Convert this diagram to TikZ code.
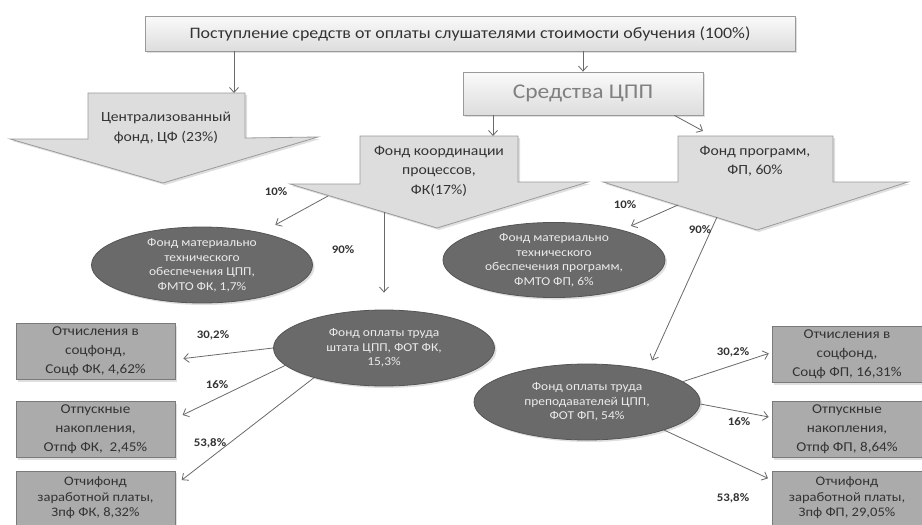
\documentclass[tikz,border=0pt]{standalone}
\usepackage{fontspec}
\setmainfont{Carlito}
\newfontfamily\wfont[FakeStretch=1.12]{Carlito}
\usetikzlibrary{arrows.meta,shapes.geometric,shadows}
\definecolor{bigfill}{HTML}{DDDDDD}
\definecolor{bigline}{HTML}{9A9A9A}
\definecolor{ellfill}{HTML}{6A6A6A}
\definecolor{ellline}{HTML}{555555}
\definecolor{boxfill}{HTML}{ABABAB}
\definecolor{boxline}{HTML}{7A7A7A}
\definecolor{txt}{HTML}{333333}
\definecolor{conncol}{HTML}{6A6A6A}
\begin{document}
\begin{tikzpicture}[x=1pt,y=-1pt,
  shad/.style={drop shadow={shadow xshift=2pt,shadow yshift=-2pt,opacity=0.25}},
  conn/.style={draw=conncol,line width=0.8pt,-{Straight Barb[length=5pt,width=9pt]}},
  bigarrow/.style={fill=bigfill,draw=bigline,line width=0.8pt,shad},
  topbox/.style={draw=bigline,line width=0.8pt,top color=white!96!gray,bottom color=bigfill,shad,
    minimum width=650pt,minimum height=35pt,inner sep=0pt,text=txt,font=\wfont\fontsize{16}{19}\selectfont},
  cppbox/.style={draw=bigline,line width=0.8pt,top color=white!96!gray,bottom color=bigfill,shad,
    minimum width=240pt,minimum height=43pt,inner sep=0pt,text=black!50,font=\wfont\fontsize{21}{24}\selectfont},
  bigtext/.style={align=center,text=txt,inner sep=0pt,font=\wfont\fontsize{14}{19.5}\selectfont},
  ell/.style={ellipse,fill=ellfill,draw=ellline,line width=0.8pt,shad,minimum width=221pt,minimum height=76pt,
    inner sep=0pt,align=center,text=white!92!black,font=\wfont\fontsize{12}{14.5}\selectfont},
  pbox/.style={rectangle,fill=boxfill,draw=boxline,line width=0.8pt,shad,minimum width=159pt,minimum height=56pt,
    inner sep=0pt,align=center,text=txt,font=\wfont\fontsize{13.5}{19}\selectfont},
  lastbox/.style={pbox,minimum height=54pt,font=\wfont\fontsize{13}{15.5}\selectfont},
  pct/.style={inner sep=0pt,text=txt,font=\wfont\bfseries\fontsize{11.5}{13}\selectfont}]
\useasboundingbox (0,0) rectangle (922,525);
\fill[white] (0,0) rectangle (922,525);

% top
\node[topbox] (top) at (470,33.5) {Поступление средств от оплаты слушателями стоимости обучения (100\%)};
\node[cppbox] (cpp) at (583,93.5) {Средства ЦПП};

% big arrows
\path[bigarrow] (88,93) -- (245,93) -- (245,138) -- (318,137) -- (163,183) -- (10,139) -- (88,139) -- cycle;
\node[bigtext] (cf) at (166,128) {Централизованный\\фонд, ЦФ (23\%)};
\coordinate (cfin) at (234,93);

\path[bigarrow] (360,136) -- (518,136) -- (518,182) -- (588,182) -- (437,228) -- (290,184) -- (360,184) -- cycle;
\node[bigtext] (fk) at (439,171) {Фонд координации\\процессов,\\ФК(17\%)};
\coordinate (fkin) at (493,136);

\path[bigarrow] (678,136) -- (833,136) -- (833,182) -- (908,182) -- (757,230) -- (603,182) -- (678,182) -- cycle;
\node[bigtext] (fp) at (755,161) {Фонд программ,\\ФП, 60\%};
\coordinate (fpin) at (703,131);

\draw[conn] (top.south -| cfin) -- (cfin);
\draw[conn] (top.south -| cpp.north) -- (cpp.north);
\draw[conn] (cpp.south -| fkin) -- (fkin);
\draw[conn] ([xshift=-29pt]cpp.south east) -- (fpin);

% ellipses
\node[ell] (mtofk) at (202,265) {Фонд материально\\технического\\обеспечения ЦПП,\\ФМТО ФК, 1,7\%};
\node[ell,minimum width=222pt,minimum height=75pt] (mtofp) at (554,260) {Фонд материально\\технического\\обеспечения программ,\\ФМТО ФП, 6\%};
\node[ell] (fotfk) at (384,348) {Фонд оплаты труда\\штата ЦПП, ФОТ ФК,\\15,3\%};
\node[ell,minimum width=226pt] (fotfp) at (587,402) {Фонд оплаты труда\\преподавателей ЦПП,\\ФОТ ФП, 54\%};

\coordinate (fk10) at (328,196);
\coordinate (fk90) at (384,212);
\coordinate (fp10) at (678,205);
\coordinate (fp90) at (717,217);
\draw[conn,shorten >=16pt] (fk10) -- (mtofk);
\draw[conn,shorten >=17pt] (fk90) -- (fotfk.north);
\draw[conn,shorten >=10pt] (fp10) -- (mtofp);
\draw[conn,shorten >=10pt] (fp90) -- (fotfp.28);

\node[pct] (p1) at (276,192) {10\%};
\node[pct] (p2) at (343,250) {90\%};
\node[pct] (p3) at (625,205) {10\%};
\node[pct] (p4) at (700,230) {90\%};

% boxes left
\node[pbox] (lb1) at (95.5,351.5) {Отчисления в\\соцфонд,\\Соцф ФК, 4,62\%};
\node[pbox] (lb2) at (95.5,429.5) {Отпускные\\накопления,\\Отпф ФК,~~2,45\%};
\node[lastbox] (lb3) at (95.5,498) {Отчифонд\\заработной платы,\\Зпф ФК, 8,32\%};
% boxes right
\node[pbox,minimum width=150pt] (rb1) at (847,354.5) {Отчисления в\\соцфонд,\\Соцф ФП, 16,31\%};
\node[pbox,minimum width=150pt] (rb2) at (847,429.5) {Отпускные\\накопления,\\Отпф ФП, 8,64\%};
\node[lastbox,minimum width=150pt] (rb3) at (847,498) {Отчифонд\\заработной платы,\\Зпф ФП, 29,05\%};

\draw[conn,shorten >=8pt] (fotfk.180) -- ([yshift=-8pt]lb1.east);
\draw[conn,shorten >=8pt] (fotfk.190) -- ([yshift=11pt]lb2.east);
\draw[conn,shorten >=8pt] (fotfk.203) -- ([yshift=13pt]lb3.east);
\draw[conn,shorten >=3pt] (fotfp.12) -- ([yshift=2pt]rb1.west);
\draw[conn,shorten >=3pt] (fotfp.-1) -- ([yshift=12pt]rb2.west);
\draw[conn,shorten >=4pt] (fotfp.-20) -- ([yshift=18pt]rb3.west);

\node[pct] (q1) at (213,335) {30,2\%};
\node[pct] (q2) at (217,385) {16\%};
\node[pct] (q3) at (210,443) {53,8\%};
\node[pct] (q4) at (733,352) {30,2\%};
\node[pct] (q5) at (739,422) {16\%};
\node[pct] (q6) at (733,498) {53,8\%};
\end{tikzpicture}
\end{document}
